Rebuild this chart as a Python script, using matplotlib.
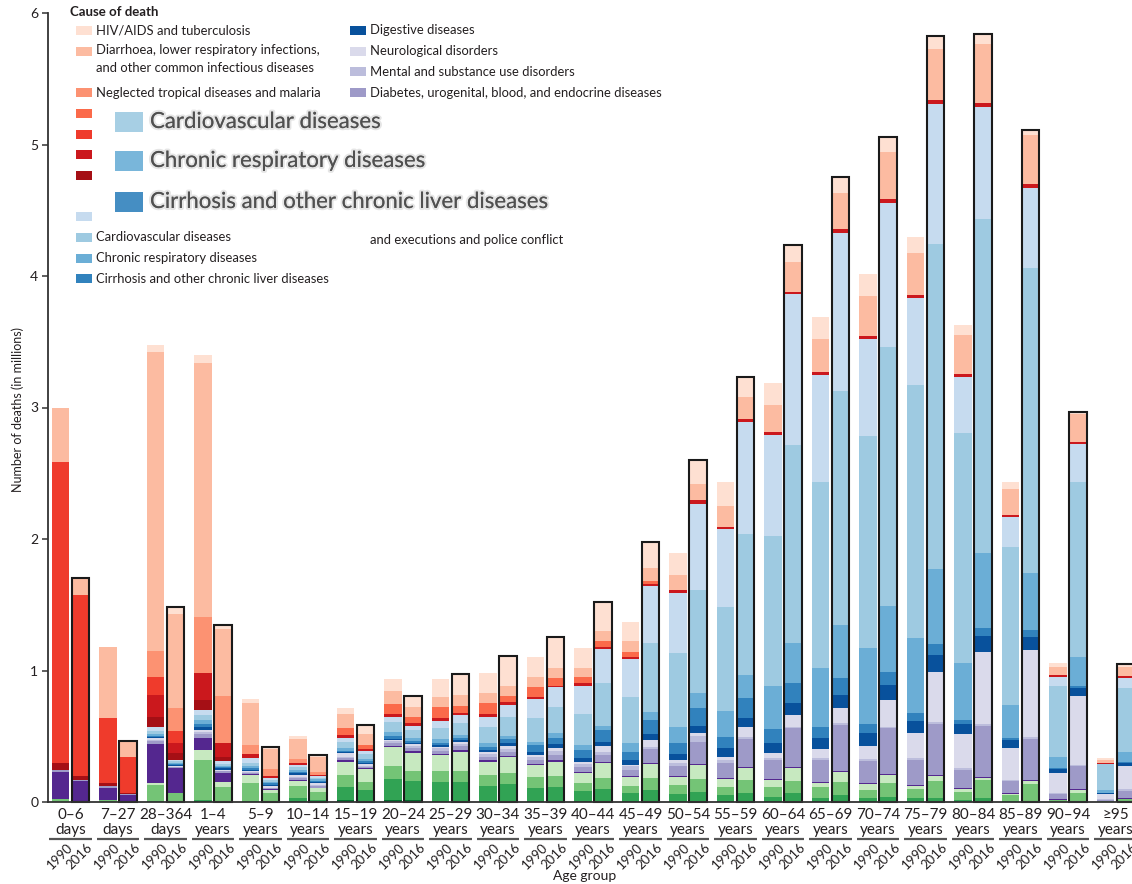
import numpy as np
import matplotlib
matplotlib.use("Agg")
import matplotlib.pyplot as plt
import matplotlib.patheffects as pe
from matplotlib.patches import Rectangle
from matplotlib.transforms import blended_transform_factory, ScaledTranslation

plt.rcParams["font.family"] = ["Lato", "DejaVu Sans"]

# ============ data (deaths in millions) ============
AGE_GROUPS = ["0–6\ndays", "7–27\ndays", "28–364\ndays", "1–4\nyears", "5–9\nyears",
              "10–14\nyears", "15–19\nyears", "20–24\nyears", "25–29\nyears", "30–34\nyears",
              "35–39\nyears", "40–44\nyears", "45–49\nyears", "50–54\nyears", "55–59\nyears",
              "60–64\nyears", "65–69\nyears", "70–74\nyears", "75–79\nyears", "80–84\nyears",
              "85–89\nyears", "90–94\nyears", "≥95\nyears"]
YEARS = ["1990", "2016"]

# stacked bottom -> top
forces_1990 = [0, 0, 0, 0.008, 0, 0.005, 0.015, 0.015, 0.01, 0.01, 0.01, 0.008, 0.008, 0.006, 0.005, 0.005, 0.004, 0.004, 0.003, 0.003, 0, 0, 0]
forces_2016 = [0, 0, 0, 0.004, 0, 0.004, 0.01, 0.015, 0.01, 0.01, 0.01, 0.008, 0.008, 0.006, 0.005, 0.005, 0.004, 0.004, 0.003, 0.003, 0, 0, 0]
selfharm_1990 = [0, 0, 0.01, 0.007, 0.005, 0.025, 0.102, 0.158, 0.14, 0.114, 0.099, 0.076, 0.058, 0.052, 0.048, 0.035, 0.024, 0.024, 0.025, 0.012, 0.005, 0, 0]
selfharm_2016 = [0, 0, 0.005, 0.006, 0.003, 0.011, 0.081, 0.147, 0.145, 0.124, 0.107, 0.091, 0.083, 0.072, 0.066, 0.061, 0.049, 0.036, 0.025, 0.025, 0.01, 0.005, 0]
unint_1990 = [0.02, 0.015, 0.12, 0.305, 0.137, 0.092, 0.088, 0.101, 0.086, 0.081, 0.084, 0.063, 0.058, 0.071, 0.059, 0.075, 0.084, 0.063, 0.068, 0.063, 0.045, 0.015, 0.005]
unint_2016 = [0.01, 0.003, 0.06, 0.107, 0.063, 0.059, 0.064, 0.076, 0.081, 0.084, 0.081, 0.081, 0.089, 0.094, 0.096, 0.096, 0.102, 0.107, 0.134, 0.139, 0.127, 0.066, 0.02]
transport_1990 = [0, 0, 0.012, 0.075, 0.06, 0.04, 0.101, 0.142, 0.121, 0.101, 0.088, 0.071, 0.064, 0.064, 0.06, 0.05, 0.033, 0.044, 0.026, 0.019, 0.01, 0.003, 0]
transport_2016 = [0, 0, 0.007, 0.037, 0.025, 0.03, 0.094, 0.137, 0.147, 0.122, 0.108, 0.113, 0.11, 0.108, 0.093, 0.093, 0.075, 0.058, 0.033, 0.018, 0.023, 0.019, 0.004]
otherncd_1990 = [0.21, 0.095, 0.30, 0.095, 0.008, 0.008, 0.01, 0.01, 0.008, 0.01, 0.01, 0.01, 0.01, 0.008, 0.008, 0.01, 0.01, 0.007, 0.007, 0.007, 0.006, 0.002, 0.002]
otherncd_2016 = [0.15, 0.052, 0.184, 0.064, 0.006, 0.006, 0.008, 0.01, 0.01, 0.01, 0.012, 0.012, 0.006, 0.009, 0.008, 0.009, 0.008, 0.008, 0.01, 0.008, 0.007, 0.006, 0.004]
diabetes_1990 = [0.012, 0.01, 0.02, 0.03, 0.012, 0.012, 0.015, 0.02, 0.025, 0.03, 0.03, 0.035, 0.045, 0.07, 0.12, 0.145, 0.165, 0.17, 0.191, 0.141, 0.095, 0.04, 0.01]
diabetes_2016 = [0.01, 0.005, 0.01, 0.015, 0.01, 0.01, 0.012, 0.025, 0.03, 0.03, 0.04, 0.05, 0.104, 0.17, 0.209, 0.296, 0.347, 0.347, 0.39, 0.387, 0.313, 0.174, 0.058]
mental_1990 = [0, 0, 0.01, 0.01, 0.005, 0.008, 0.015, 0.015, 0.02, 0.02, 0.025, 0.027, 0.027, 0.023, 0.019, 0.012, 0.012, 0.013, 0.012, 0.011, 0.01, 0.006, 0.003]
mental_2016 = [0, 0, 0, 0, 0, 0.006, 0.008, 0.015, 0.02, 0.02, 0.032, 0.028, 0.02, 0.041, 0.02, 0.013, 0.013, 0.013, 0.015, 0.013, 0.012, 0.011, 0.01]
neuro_1990 = [0, 0, 0.013, 0.02, 0.01, 0.015, 0.024, 0.01, 0.01, 0.011, 0.011, 0.016, 0.011, 0.025, 0.021, 0.043, 0.068, 0.101, 0.19, 0.259, 0.237, 0.152, 0.04]
neuro_2016 = [0, 0, 0.005, 0.01, 0.015, 0.016, 0.012, 0.016, 0.016, 0.025, 0.018, 0.043, 0.051, 0.022, 0.071, 0.089, 0.114, 0.203, 0.381, 0.55, 0.664, 0.525, 0.178]
digestive_1990 = [0, 0, 0.01, 0.02, 0.01, 0.012, 0.01, 0.009, 0.015, 0.018, 0.026, 0.026, 0.038, 0.046, 0.068, 0.071, 0.084, 0.096, 0.096, 0.078, 0.062, 0.032, 0.007]
digestive_2016 = [0, 0, 0.01, 0.012, 0.01, 0.01, 0.01, 0.01, 0.012, 0.021, 0.033, 0.033, 0.046, 0.056, 0.073, 0.093, 0.102, 0.114, 0.127, 0.119, 0.101, 0.059, 0.021]
cirrhosis_1990 = [0, 0, 0.008, 0.02, 0.01, 0.012, 0.01, 0.02, 0.016, 0.024, 0.047, 0.063, 0.064, 0.086, 0.084, 0.107, 0.089, 0.071, 0.062, 0.031, 0.014, 0.006, 0.003]
cirrhosis_2016 = [0, 0, 0.01, 0.01, 0.01, 0.01, 0.01, 0.015, 0.014, 0.034, 0.049, 0.088, 0.107, 0.134, 0.148, 0.152, 0.126, 0.101, 0.087, 0.063, 0.051, 0.017, 0.011]
chronresp_1990 = [0, 0, 0.012, 0.03, 0.013, 0.015, 0.02, 0.03, 0.026, 0.032, 0.029, 0.038, 0.068, 0.122, 0.2, 0.329, 0.443, 0.576, 0.565, 0.43, 0.254, 0.084, 0.021]
chronresp_2016 = [0, 0, 0.009, 0.012, 0.012, 0.012, 0.015, 0.02, 0.025, 0.022, 0.032, 0.033, 0.063, 0.114, 0.177, 0.305, 0.406, 0.499, 0.564, 0.571, 0.436, 0.218, 0.077]
cardio_1990 = [0, 0, 0.025, 0.04, 0.03, 0.02, 0.05, 0.08, 0.083, 0.122, 0.182, 0.24, 0.349, 0.562, 0.793, 1.143, 1.415, 1.614, 1.926, 1.754, 1.203, 0.542, 0.196]
cardio_2016 = [0, 0, 0.01, 0.013, 0.015, 0.012, 0.04, 0.06, 0.088, 0.147, 0.203, 0.323, 0.52, 0.786, 1.072, 1.503, 1.782, 1.972, 2.474, 2.537, 2.316, 1.336, 0.482]
neoplasms_1990 = [0, 0, 0.03, 0.04, 0.032, 0.017, 0.029, 0.039, 0.058, 0.077, 0.139, 0.212, 0.287, 0.452, 0.591, 0.763, 0.816, 0.735, 0.659, 0.426, 0.229, 0.071, 0.005]
neoplasms_2016 = [0, 0, 0.01, 0.022, 0.013, 0.01, 0.026, 0.034, 0.062, 0.091, 0.147, 0.26, 0.436, 0.654, 0.852, 1.145, 1.202, 1.096, 1.063, 0.85, 0.61, 0.284, 0.075]
othercomm_1990 = [0.055, 0.022, 0.08, 0.076, 0, 0, 0, 0, 0, 0, 0, 0, 0, 0, 0, 0, 0, 0, 0, 0, 0, 0, 0]
othercomm_2016 = [0.03, 0.008, 0.055, 0.033, 0, 0, 0, 0, 0, 0, 0, 0, 0, 0, 0, 0, 0, 0, 0, 0, 0, 0, 0]
nutrition_1990 = [0, 0, 0.16, 0.203, 0.033, 0.018, 0.021, 0.02, 0.018, 0.019, 0.016, 0.018, 0.018, 0.025, 0.018, 0.028, 0.023, 0.026, 0.026, 0.021, 0.01, 0.013, 0.007]
nutrition_2016 = [0, 0, 0.075, 0.10, 0.016, 0.007, 0.01, 0.018, 0.02, 0.018, 0.013, 0.018, 0.015, 0.031, 0.02, 0.02, 0.03, 0.025, 0.032, 0.035, 0.03, 0.02, 0.018]
neonatal_1990 = [2.29, 0.50, 0.14, 0, 0, 0, 0, 0, 0, 0, 0, 0, 0, 0, 0, 0, 0, 0, 0, 0, 0, 0, 0]
neonatal_2016 = [1.375, 0.272, 0.09, 0, 0, 0, 0, 0, 0, 0, 0, 0, 0, 0, 0, 0, 0, 0, 0, 0, 0, 0, 0]
maternal_1990 = [0, 0, 0, 0, 0, 0, 0.05, 0.076, 0.089, 0.081, 0.076, 0.045, 0.033, 0, 0, 0, 0, 0, 0, 0, 0, 0, 0]
maternal_2016 = [0, 0, 0, 0, 0, 0, 0.033, 0.051, 0.05, 0.05, 0.055, 0.046, 0.025, 0, 0, 0, 0, 0, 0, 0, 0, 0, 0]
ntd_1990 = [0, 0, 0.20, 0.426, 0.068, 0.031, 0, 0, 0, 0, 0, 0, 0, 0, 0, 0, 0, 0, 0, 0, 0, 0, 0]
ntd_2016 = [0, 0, 0.177, 0.36, 0.051, 0.027, 0, 0, 0, 0, 0, 0, 0, 0, 0, 0, 0, 0, 0, 0, 0, 0, 0]
diarrhoea_1990 = [0.41, 0.538, 2.27, 1.935, 0.322, 0.147, 0.109, 0.099, 0.075, 0.08, 0.076, 0.073, 0.086, 0.118, 0.156, 0.204, 0.25, 0.304, 0.316, 0.296, 0.204, 0.063, 0.021]
diarrhoea_2016 = [0.125, 0.124, 0.71, 0.51, 0.151, 0.11, 0.087, 0.076, 0.08, 0.076, 0.076, 0.076, 0.094, 0.121, 0.172, 0.226, 0.27, 0.357, 0.386, 0.444, 0.37, 0.211, 0.072]
hiv_1990 = [0, 0, 0.055, 0.06, 0.025, 0.025, 0.043, 0.089, 0.135, 0.153, 0.152, 0.148, 0.147, 0.16, 0.18, 0.17, 0.17, 0.167, 0.122, 0.076, 0.046, 0.025, 0.017]
hiv_2016 = [0, 0, 0.053, 0.03, 0.016, 0.017, 0.065, 0.081, 0.163, 0.226, 0.241, 0.22, 0.203, 0.182, 0.152, 0.13, 0.123, 0.115, 0.101, 0.078, 0.04, 0.017, 0.019]

# (1990 values, 2016 values, colour), bottom of stack first
SERIES = [
    (forces_1990, forces_2016, "#006d2c"),
    (selfharm_1990, selfharm_2016, "#31a354"),
    (unint_1990, unint_2016, "#74c476"),
    (transport_1990, transport_2016, "#c7e9c0"),
    (otherncd_1990, otherncd_2016, "#54278f"),
    (diabetes_1990, diabetes_2016, "#9e9ac8"),
    (mental_1990, mental_2016, "#bcbddc"),
    (neuro_1990, neuro_2016, "#dadaeb"),
    (digestive_1990, digestive_2016, "#08519c"),
    (cirrhosis_1990, cirrhosis_2016, "#3182bd"),
    (chronresp_1990, chronresp_2016, "#6baed6"),
    (cardio_1990, cardio_2016, "#9ecae1"),
    (neoplasms_1990, neoplasms_2016, "#c6dbef"),
    (othercomm_1990, othercomm_2016, "#a50f15"),
    (nutrition_1990, nutrition_2016, "#cb181d"),
    (neonatal_1990, neonatal_2016, "#ef3b2c"),
    (maternal_1990, maternal_2016, "#fb6a4a"),
    (ntd_1990, ntd_2016, "#fc9272"),
    (diarrhoea_1990, diarrhoea_2016, "#fcbba1"),
    (hiv_1990, hiv_2016, "#fee0d2"),
]

# legend columns: (colour, label); None label = swatch only, None colour = empty row
LEGEND_COL1 = [
    ("#fee0d2", "HIV/AIDS and tuberculosis"),
    ("#fcbba1", "Diarrhoea, lower respiratory infections,\nand other common infectious diseases"),
    (None, None),
    ("#fc9272", "Neglected tropical diseases and malaria"),
    ("#fb6a4a", None),
    ("#ef3b2c", None),
    ("#cb181d", None),
    ("#a50f15", None),
    (None, None),
    ("#c6dbef", None),
    ("#9ecae1", "Cardiovascular diseases"),
    ("#6baed6", "Chronic respiratory diseases"),
    ("#3182bd", "Cirrhosis and other chronic liver diseases"),
]
LEGEND_COL2 = [
    ("#08519c", "Digestive diseases"),
    ("#dadaeb", "Neurological disorders"),
    ("#bcbddc", "Mental and substance use disorders"),
    ("#9e9ac8", "Diabetes, urogenital, blood, and endocrine diseases"),
]
ZOOMED_LABELS = [
    ("#9ecae1", "Cardiovascular diseases"),
    ("#6baed6", "Chronic respiratory diseases"),
    ("#3182bd", "Cirrhosis and other chronic liver diseases"),
]

# ============ figure ============
W, H = 1132, 884
TEXT_COLOR = "#231f20"


def fx(px):
    return px / W


def fy(py):
    return 1 - py / H


fig = plt.figure(figsize=(W / 100, H / 100), dpi=100)
ax = fig.add_axes([fx(48), fy(802), 1 - fx(48), fy(13) - fy(802)])

n = len(AGE_GROUPS)
groups = np.arange(n)
offset, width = 0.21, 0.36
x_1990 = groups - offset
x_2016 = groups + offset

bottom_1990 = np.zeros(n)
bottom_2016 = np.zeros(n)
for v90, v16, color in SERIES:
    v90 = np.array(v90)
    v16 = np.array(v16)
    ax.bar(x_1990, v90, width, bottom=bottom_1990, color=color, linewidth=0)
    ax.bar(x_2016, v16, width, bottom=bottom_2016, color=color, linewidth=0)
    bottom_1990 += v90
    bottom_2016 += v16

# 2016 bars get a black outline around the whole stack
ax.bar(x_2016, bottom_2016, width, fill=False, edgecolor="#1a1a1a", linewidth=1.5,
       clip_on=False)

ax.set_ylim(0, 6)
ax.set_xlim(-0.474, (W - 70.5) / 47.5)
for side in ["top", "right"]:
    ax.spines[side].set_visible(False)
for side in ["left", "bottom"]:
    ax.spines[side].set_color("#333333")
    ax.spines[side].set_linewidth(1.3)

ax.set_yticks(range(7))
ax.tick_params(axis="y", labelsize=10, length=4, width=1.1, color="#333333",
               labelcolor=TEXT_COLOR, pad=3)

# year labels under each bar, slanted
ax.set_xticks(np.concatenate([x_1990, x_2016]))
ax.set_xticklabels(YEARS[:1] * n + YEARS[1:] * n, rotation=45, ha="right",
                   va="top", rotation_mode="anchor", fontsize=9.5, color=TEXT_COLOR)
ax.tick_params(axis="x", length=0, pad=28)
shift = ScaledTranslation(6 / 100, 0, fig.dpi_scale_trans)
for lbl in ax.get_xticklabels():
    lbl.set_transform(lbl.get_transform() + shift)

trans = blended_transform_factory(ax.transData, ax.transAxes)
ax_h = 802 - 13
for i, name in enumerate(AGE_GROUPS):
    ax.text(i, -6 / ax_h, name, transform=trans, ha="center", va="top",
            fontsize=11, linespacing=1.05, color=TEXT_COLOR)
    ax.plot([i - 0.45, i + 0.45], [-37 / ax_h] * 2, transform=trans, color="#555555",
            lw=1.6, clip_on=False, solid_capstyle="butt")

fig.text(fx(585), fy(876), "Age group", ha="center", va="center", fontsize=10,
         color=TEXT_COLOR)
fig.text(fx(18), fy(410), "Number of deaths (in millions)", rotation=90, ha="center",
         va="center", fontsize=9, color=TEXT_COLOR)

# ============ legend ============
fig.text(fx(70), fy(12), "Cause of death", ha="left", va="center", fontsize=9.5,
         fontweight="bold", color=TEXT_COLOR)
ROW0, ROW_STEP = 30.5, 20.7
SW, SH = 16, 9
LEGEND_FS = 9.4


def legend_column(entries, x_sw, x_txt):
    for row, (color, label) in enumerate(entries):
        yc = ROW0 + row * ROW_STEP
        if color is not None:
            fig.patches.append(Rectangle((fx(x_sw), fy(yc + SH / 2)), SW / W, SH / H,
                                         transform=fig.transFigure, color=color,
                                         linewidth=0))
        if label is None:
            continue
        if "\n" in label:
            fig.text(fx(x_txt), fy(yc - 7), label, ha="left", va="top",
                     fontsize=LEGEND_FS, color=TEXT_COLOR, linespacing=1.55)
        else:
            fig.text(fx(x_txt), fy(yc), label, ha="left", va="center",
                     fontsize=LEGEND_FS, color=TEXT_COLOR)


legend_column(LEGEND_COL1, 76, 96)
legend_column(LEGEND_COL2, 350, 370)
fig.text(fx(370), fy(240), "and executions and police conflict", ha="left",
         va="center", fontsize=LEGEND_FS, color=TEXT_COLOR)

# enlarged callout of three of the legend entries
halo = [pe.withStroke(linewidth=3, foreground=(0.6, 0.6, 0.6, 0.25))]
for k, (color, label) in enumerate(ZOOMED_LABELS):
    yc = [122, 161, 202][k]
    fig.patches.append(Rectangle((fx(115), fy(yc + 10)), 28 / W, 20 / H,
                                 transform=fig.transFigure, color=color, linewidth=0,
                                 alpha=0.9))
    fig.text(fx(150), fy(yc), label, ha="left", va="center", fontsize=16,
             color="#505050", path_effects=halo)

fig.savefig("out.png", dpi=100)
